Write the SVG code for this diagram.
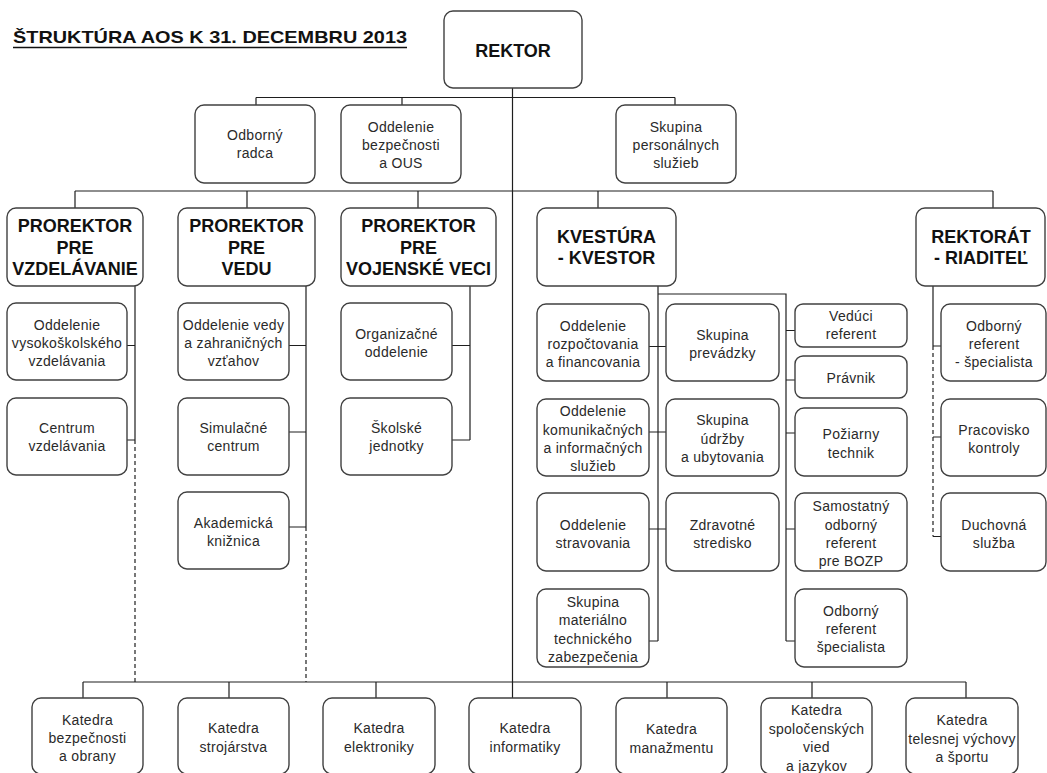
<svg xmlns="http://www.w3.org/2000/svg" width="1047" height="773" viewBox="0 0 1047 773">
<style>
.bg{fill:#fff}
.box rect{fill:#fff;stroke:#404040;stroke-width:1.4}
.t{font-family:"Liberation Sans",Arial,sans-serif;font-size:14px;fill:#2a2a2a;text-anchor:middle;letter-spacing:0.3px}
.h{font-family:"Liberation Sans",Arial,sans-serif;font-size:18px;font-weight:bold;fill:#111;text-anchor:middle}
.ln{stroke:#1e1e1e;stroke-width:1.2;fill:none}
.dash{stroke-dasharray:4 3}
.title{font-family:"Liberation Sans",Arial,sans-serif;font-size:17px;font-weight:bold;fill:#111}
</style>
<rect class="bg" x="0" y="0" width="1047" height="773"/>
<g id="title">
<text class="title" x="13" y="43" textLength="394" lengthAdjust="spacingAndGlyphs">ŠTRUKTÚRA AOS K 31. DECEMBRU 2013</text>
<line x1="13" y1="47.5" x2="407" y2="47.5" stroke="#111" stroke-width="1.5"/>
</g>
<g id="connectors">
<path class="ln" d="M512.5 88V698"/>
<path class="ln" d="M256 97.5H675M256 97.5V105M402 97.5V105M675 97.5V105"/>
<path class="ln" d="M75 191H993M75 191V208M247 191V208M418 191V208M598 191V208M993 191V208"/>
<path class="ln" d="M135 286V440M127 345.5H135M127 440H135"/>
<path class="ln dash" d="M135 440V682"/>
<path class="ln" d="M306 286V527M289 345.5H306M289 432H306M289 527H306"/>
<path class="ln dash" d="M306 527V682"/>
<path class="ln" d="M470 286V440M452 345.5H470M452 440H470"/>
<path class="ln" d="M658 286V641M658 294H786V641M649 346.5H666M649 432H666M649 529H666M649 641H658"/>
<path class="ln" d="M786 330.5H795M786 380H795M786 433H795M786 529H795M786 641H795"/>
<path class="ln" d="M933 286V346M933 346H941M933 437H941M933 536.5H941"/>
<path class="ln dash" d="M933 346V536.5"/>
<path class="ln" d="M83 682H966M83 682V698M229 682V698M376 682V698M667 682V698M812 682V698M966 682V698"/>
</g>
<g id="rektor" class="box"><rect x="444" y="11" width="138" height="77" rx="9"/><text class="h" x="513" y="57">REKTOR</text></g>
<g id="odborny-radca" class="box"><rect x="195" y="105" width="120" height="78" rx="9"/><text class="t" x="255" y="140">Odborný</text><text class="t" x="255" y="158">radca</text></g>
<g id="oddelenie-bezpecnosti" class="box"><rect x="341" y="105" width="120" height="78" rx="9"/><text class="t" x="401" y="132">Oddelenie</text><text class="t" x="401" y="150">bezpečnosti</text><text class="t" x="401" y="168">a OUS</text></g>
<g id="skupina-personalnych" class="box"><rect x="616" y="105" width="120" height="78" rx="9"/><text class="t" x="676" y="132">Skupina</text><text class="t" x="676" y="150">personálnych</text><text class="t" x="676" y="168">služieb</text></g>
<g id="prorektor-vzdelavanie" class="box"><rect x="7" y="208" width="136" height="78" rx="9"/><text class="h" x="75" y="232">PROREKTOR</text><text class="h" x="75" y="253.5">PRE</text><text class="h" x="75" y="275">VZDELÁVANIE</text></g>
<g id="prorektor-vedu" class="box"><rect x="178" y="208" width="137" height="78" rx="9"/><text class="h" x="246.5" y="232">PROREKTOR</text><text class="h" x="246.5" y="253.5">PRE</text><text class="h" x="246.5" y="275">VEDU</text></g>
<g id="prorektor-vojenske" class="box"><rect x="341" y="208" width="155" height="78" rx="9"/><text class="h" x="418.5" y="232">PROREKTOR</text><text class="h" x="418.5" y="253.5">PRE</text><text class="h" x="418.5" y="275">VOJENSKÉ VECI</text></g>
<g id="kvestura" class="box"><rect x="537" y="208" width="139" height="78" rx="9"/><text class="h" x="606.5" y="243">KVESTÚRA</text><text class="h" x="606.5" y="264">- KVESTOR</text></g>
<g id="rektorat" class="box"><rect x="916" y="208" width="129" height="78" rx="9"/><text class="h" x="981" y="243">REKTORÁT</text><text class="h" x="981" y="264">- RIADITEĽ</text></g>
<g id="odd-vysokoskolskeho" class="box"><rect x="7" y="303" width="120" height="77" rx="9"/><text class="t" x="67" y="330">Oddelenie</text><text class="t" x="67" y="348">vysokoškolského</text><text class="t" x="67" y="366">vzdelávania</text></g>
<g id="centrum-vzdelavania" class="box"><rect x="7" y="398" width="120" height="77" rx="9"/><text class="t" x="67" y="433">Centrum</text><text class="t" x="67" y="451">vzdelávania</text></g>
<g id="odd-vedy" class="box"><rect x="178" y="303" width="111" height="77" rx="9"/><text class="t" x="233.5" y="330">Oddelenie vedy</text><text class="t" x="233.5" y="348">a zahraničných</text><text class="t" x="233.5" y="366">vzťahov</text></g>
<g id="simulacne-centrum" class="box"><rect x="178" y="398" width="111" height="77" rx="9"/><text class="t" x="233.5" y="433">Simulačné</text><text class="t" x="233.5" y="451">centrum</text></g>
<g id="akademicka-kniznica" class="box"><rect x="178" y="492" width="111" height="77" rx="9"/><text class="t" x="233.5" y="528">Akademická</text><text class="t" x="233.5" y="546">knižnica</text></g>
<g id="organizacne-oddelenie" class="box"><rect x="341" y="303" width="111" height="77" rx="9"/><text class="t" x="396.5" y="339">Organizačné</text><text class="t" x="396.5" y="357">oddelenie</text></g>
<g id="skolske-jednotky" class="box"><rect x="341" y="398" width="111" height="77" rx="9"/><text class="t" x="396.5" y="433">Školské</text><text class="t" x="396.5" y="451">jednotky</text></g>
<g id="odd-rozpoctovania" class="box"><rect x="537" y="304" width="112" height="77" rx="9"/><text class="t" x="593" y="330.5">Oddelenie</text><text class="t" x="593" y="349">rozpočtovania</text><text class="t" x="593" y="367">a financovania</text></g>
<g id="odd-komunikacnych" class="box"><rect x="537" y="399" width="112" height="77" rx="9"/><text class="t" x="593" y="416">Oddelenie</text><text class="t" x="593" y="434.5">komunikačných</text><text class="t" x="593" y="453">a informačných</text><text class="t" x="593" y="471">služieb</text></g>
<g id="odd-stravovania" class="box"><rect x="537" y="493" width="112" height="78" rx="9"/><text class="t" x="593" y="529.5">Oddelenie</text><text class="t" x="593" y="548">stravovania</text></g>
<g id="skupina-materialno" class="box"><rect x="537" y="589" width="112" height="78" rx="9"/><text class="t" x="593" y="607">Skupina</text><text class="t" x="593" y="625">materiálno</text><text class="t" x="593" y="643.5">technického</text><text class="t" x="593" y="662">zabezpečenia</text></g>
<g id="skupina-prevadzky" class="box"><rect x="666" y="304" width="113" height="77" rx="9"/><text class="t" x="722.5" y="340">Skupina</text><text class="t" x="722.5" y="358">prevádzky</text></g>
<g id="skupina-udrzby" class="box"><rect x="666" y="399" width="113" height="77" rx="9"/><text class="t" x="722.5" y="425">Skupina</text><text class="t" x="722.5" y="444">údržby</text><text class="t" x="722.5" y="462">a ubytovania</text></g>
<g id="zdravotne-stredisko" class="box"><rect x="666" y="493" width="113" height="78" rx="9"/><text class="t" x="722.5" y="529.5">Zdravotné</text><text class="t" x="722.5" y="548">stredisko</text></g>
<g id="veduci-referent" class="box"><rect x="795" y="304" width="112" height="43" rx="8"/><text class="t" x="851" y="321">Vedúci</text><text class="t" x="851" y="339">referent</text></g>
<g id="pravnik" class="box"><rect x="795" y="356" width="112" height="42" rx="8"/><text class="t" x="851" y="383">Právnik</text></g>
<g id="poziarny-technik" class="box"><rect x="795" y="408" width="112" height="68" rx="9"/><text class="t" x="851" y="439">Požiarny</text><text class="t" x="851" y="457.5">technik</text></g>
<g id="samostatny-referent" class="box"><rect x="795" y="493" width="112" height="78" rx="9"/><text class="t" x="851" y="511">Samostatný</text><text class="t" x="851" y="529.5">odborný</text><text class="t" x="851" y="548">referent</text><text class="t" x="851" y="566">pre BOZP</text></g>
<g id="odborny-referent-specialista" class="box"><rect x="795" y="589" width="112" height="78" rx="9"/><text class="t" x="851" y="615.5">Odborný</text><text class="t" x="851" y="634">referent</text><text class="t" x="851" y="652">špecialista</text></g>
<g id="odborny-referent-rektorat" class="box"><rect x="941" y="304" width="105" height="77" rx="9"/><text class="t" x="994" y="330.5">Odborný</text><text class="t" x="994" y="349">referent</text><text class="t" x="994" y="367">- špecialista</text></g>
<g id="pracovisko-kontroly" class="box"><rect x="941" y="399" width="105" height="77" rx="9"/><text class="t" x="994" y="434.5">Pracovisko</text><text class="t" x="994" y="453">kontroly</text></g>
<g id="duchovna-sluzba" class="box"><rect x="941" y="493" width="105" height="78" rx="9"/><text class="t" x="994" y="529.5">Duchovná</text><text class="t" x="994" y="548">služba</text></g>
<g id="katedra-bezpecnosti" class="box"><rect x="32" y="698" width="111" height="76" rx="9"/><text class="t" x="87.5" y="725">Katedra</text><text class="t" x="87.5" y="743">bezpečnosti</text><text class="t" x="87.5" y="761">a obrany</text></g>
<g id="katedra-strojarstva" class="box"><rect x="178" y="698" width="111" height="76" rx="9"/><text class="t" x="233.5" y="733">Katedra</text><text class="t" x="233.5" y="752">strojárstva</text></g>
<g id="katedra-elektroniky" class="box"><rect x="323" y="698" width="112" height="76" rx="9"/><text class="t" x="379" y="733">Katedra</text><text class="t" x="379" y="752">elektroniky</text></g>
<g id="katedra-informatiky" class="box"><rect x="469" y="698" width="112" height="76" rx="9"/><text class="t" x="525" y="733">Katedra</text><text class="t" x="525" y="752">informatiky</text></g>
<g id="katedra-manazmentu" class="box"><rect x="616" y="698" width="111" height="76" rx="9"/><text class="t" x="671.5" y="734">Katedra</text><text class="t" x="671.5" y="753">manažmentu</text></g>
<g id="katedra-spolocenskych" class="box"><rect x="761" y="698" width="111" height="76" rx="9"/><text class="t" x="816.5" y="715">Katedra</text><text class="t" x="816.5" y="734">spoločenských</text><text class="t" x="816.5" y="752">vied</text><text class="t" x="816.5" y="771">a jazykov</text></g>
<g id="katedra-telesnej" class="box"><rect x="906" y="698" width="112" height="76" rx="9"/><text class="t" x="962" y="725">Katedra</text><text class="t" x="962" y="744">telesnej výchovy</text><text class="t" x="962" y="762">a športu</text></g>
</svg>
